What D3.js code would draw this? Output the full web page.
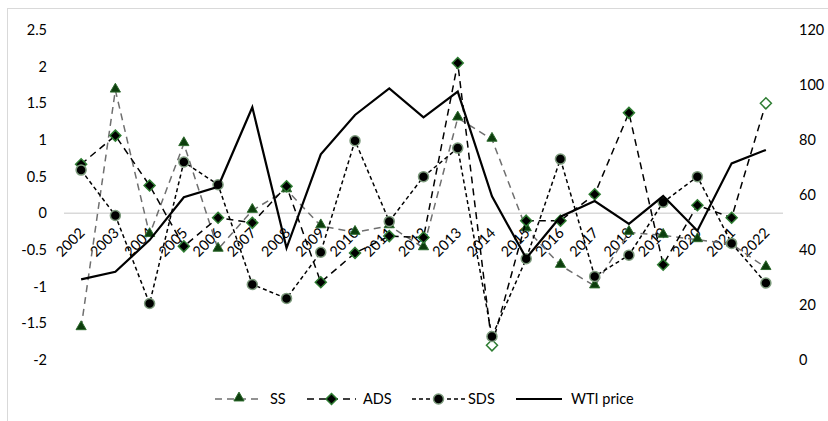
<!DOCTYPE html>
<html>
<head>
<meta charset="utf-8">
<style>
    body { margin: 0; background: #fff; }
    svg { font-family: Lato, 'Open Sans', sans-serif; }
</style>
</head>
<body>
<svg width="828" height="421"></svg>
<script src="https://d3js.org/d3.v7.min.js"></script>
<script>

    let years = ["2002", "2003", "2004", "2005", "2006", "2007", "2008", "2009", "2010", "2011", "2012",
        "2013", "2014", "2015", "2016", "2017", "2018", "2019", "2020", "2021", "2022"]

    let ss = [-1.56, 1.68, -0.29, 0.95, -0.49, 0.04, 0.32, -0.17, -0.26, -0.17, -0.47,
        1.30, 1.01, -0.21, -0.71, -0.99, -0.26, -0.30, -0.36, -0.42, -0.74]
    let ads = [0.67, 1.06, 0.38, -0.45, -0.06, -0.13, 0.37, -0.94, -0.54, -0.31, -0.33,
        2.05, -1.80, -0.10, -0.10, 0.26, 1.37, -0.70, 0.11, -0.06, 1.50]
    let sds = [0.59, -0.03, -1.23, 0.70, 0.39, -0.97, -1.16, -0.53, 0.99, -0.11, 0.50,
        0.89, -1.68, -0.62, 0.74, -0.86, -0.57, 0.15, 0.50, -0.41, -0.95]
    let wti = [29.3, 32.1, 43.6, 59.2, 63.0, 91.9, 40.7, 74.8, 89.1, 98.8, 88.2,
        97.6, 59.5, 37.0, 52.1, 57.8, 49.5, 59.6, 47.0, 71.5, 76.4]

    // hollow markers in the original (2014 and 2022 on ADS)
    let adsHollow = ["2014", "2022"]

    let leftTicks = [2.5, 2, 1.5, 1, 0.5, 0, -0.5, -1, -1.5, -2]
    let rightTicks = [0, 20, 40, 60, 80, 100, 120]

    let svg = d3.select("svg")

    // chart border
    svg.append("rect")
        .attr("x", 7.5).attr("y", 8.5)
        .attr("width", 830).attr("height", 420)
        .style("fill", "none")
        .style("stroke", "#d9d9d9")

    let x = d3.scaleBand().domain(years).range([64, 783])
    let cx = d => x(d) + x.bandwidth() / 2

    let y = d3.scaleLinear().domain([-2, 2.5]).range([360, 30])
    let y2 = d3.scaleLinear().domain([0, 120]).range([360, 30])

    // zero line
    svg.append("line")
        .attr("x1", 64).attr("x2", 783)
        .attr("y1", y(0)).attr("y2", y(0))
        .style("stroke", "#d9d9d9")
        .style("stroke-width", 1.5)

    // left axis labels
    svg.append("g")
        .selectAll("text")
        .data(leftTicks)
        .join("text")
        .attr("x", 47)
        .attr("y", d => y(d))
        .attr("dy", "0.35em")
        .attr("text-anchor", "end")
        .style("font-size", "14.5px")
        .style("fill", "#000")
        .text(d => d)

    // right axis labels
    svg.append("g")
        .selectAll("text")
        .data(rightTicks)
        .join("text")
        .attr("x", 799)
        .attr("y", d => y2(d))
        .attr("dy", "0.35em")
        .attr("text-anchor", "start")
        .style("font-size", "14.5px")
        .text(d => d)

    // year labels rotated along the zero line
    svg.append("g")
        .selectAll("text")
        .data(years)
        .join("text")
        .attr("transform", d => `translate(${cx(d) + 1},${y(0) + 17}) rotate(-45)`)
        .attr("text-anchor", "end")
        .attr("dy", "0.35em")
        .style("font-size", "14.5px")
        .text(d => d)

    let line = d3.line().x((d, i) => cx(years[i])).y(d => y(d))
    let line2 = d3.line().x((d, i) => cx(years[i])).y(d => y2(d))

    let tri = d3.symbol().type(d3.symbolTriangle).size(45)
    let dia = "M0,-5.5L5.5,0L0,5.5L-5.5,0Z"

    // SS
    svg.append("path")
        .attr("d", line(ss))
        .style("fill", "none")
        .style("stroke", "#6f6f6f")
        .style("stroke-width", 1.5)
        .style("stroke-dasharray", "7,5")
    svg.append("g")
        .selectAll("path")
        .data(ss)
        .join("path")
        .attr("d", tri)
        .attr("transform", (d, i) => `translate(${cx(years[i])},${y(d) - 1})`)
        .style("fill", "#0d3d0d")
        .style("stroke", "#2e6b2e")
        .style("stroke-width", 1)

    // ADS
    svg.append("path")
        .attr("d", line(ads))
        .style("fill", "none")
        .style("stroke", "#000")
        .style("stroke-width", 1.5)
        .style("stroke-dasharray", "7,5")
    svg.append("g")
        .selectAll("path")
        .data(ads)
        .join("path")
        .attr("d", dia)
        .attr("transform", (d, i) => `translate(${cx(years[i])},${y(d)})`)
        .style("fill", (d, i) => adsHollow.includes(years[i]) ? "#fff" : "#000")
        .style("stroke", "#2e7d32")
        .style("stroke-width", 1.5)

    // SDS
    svg.append("path")
        .attr("d", line(sds))
        .style("fill", "none")
        .style("stroke", "#000")
        .style("stroke-width", 1.5)
        .style("stroke-dasharray", "4,3")
    svg.append("g")
        .selectAll("circle")
        .data(sds)
        .join("circle")
        .attr("cx", (d, i) => cx(years[i]))
        .attr("cy", d => y(d))
        .attr("r", 5)
        .style("fill", "#000")
        .style("stroke", "#7d9b7d")
        .style("stroke-width", 1.5)

    // WTI price
    svg.append("path")
        .attr("d", line2(wti))
        .style("fill", "none")
        .style("stroke", "#000")
        .style("stroke-width", 2.2)

    // legend
    let legend = [
        { name: "SS", x1: 215, x2: 263, tx: 270, color: "#6f6f6f", dash: "7,5", mark: "tri" },
        { name: "ADS", x1: 307, x2: 356, tx: 363, color: "#000", dash: "7,5", mark: "dia" },
        { name: "SDS", x1: 412, x2: 465, tx: 468, color: "#000", dash: "4,3", mark: "circ" },
        { name: "WTI price", x1: 516, x2: 562, tx: 571, color: "#000", dash: null, mark: null }
    ]
    let ly = 399
    let lg = svg.append("g")
    legend.forEach(l => {
        lg.append("line")
            .attr("x1", l.x1).attr("x2", l.x2)
            .attr("y1", ly).attr("y2", ly)
            .style("stroke", l.color)
            .style("stroke-width", l.mark ? 1.5 : 2.2)
            .style("stroke-dasharray", l.dash)
        let mx = (l.x1 + l.x2) / 2
        if (l.mark == "tri") {
            lg.append("path").attr("d", tri)
                .attr("transform", `translate(${mx},${ly - 1})`)
                .style("fill", "#0d3d0d").style("stroke", "#2e6b2e")
        } else if (l.mark == "dia") {
            lg.append("path").attr("d", dia)
                .attr("transform", `translate(${mx},${ly})`)
                .style("fill", "#000").style("stroke", "#2e7d32").style("stroke-width", 1.5)
        } else if (l.mark == "circ") {
            lg.append("circle").attr("cx", mx).attr("cy", ly).attr("r", 5)
                .style("fill", "#000").style("stroke", "#7d9b7d").style("stroke-width", 1.5)
        }
        lg.append("text")
            .attr("x", l.tx).attr("y", ly)
            .attr("dy", "0.35em")
            .style("font-size", "14.5px")
            .text(l.name)
    })

</script>
</body>
</html>
